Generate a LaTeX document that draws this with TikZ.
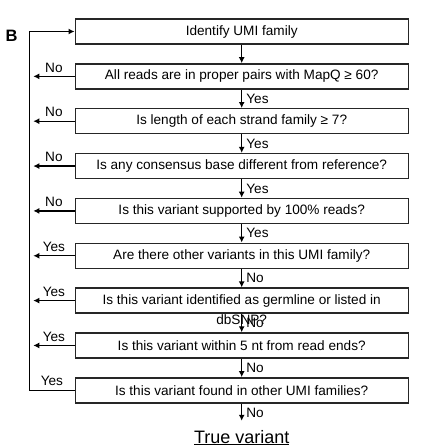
\documentclass[tikz,border=0pt]{standalone}
\usepackage{fontspec}
\setmainfont{Liberation Sans}
\usetikzlibrary{positioning,arrows.meta}

\begin{document}
\begin{tikzpicture}[x=1pt,y=1pt,node distance=18.45pt,
        qbox/.style={draw=black!85,line width=1.4pt,minimum width=333pt,minimum height=25pt,
            inner sep=0pt,font=\fontsize{13.6}{16}\selectfont},
        flow/.style={line width=1.4pt,-{Latex[length=6pt,width=6pt]}},
        ans/.style={font=\fontsize{13.6}{16}\selectfont,inner sep=1pt}]
        \useasboundingbox (0,0) rectangle (427,-447);
        \node[font=\fontsize{16.5}{18}\selectfont\bfseries] (panel) at (11.5,-36) {B};
        \node[qbox] (q1) at (241.7,-31.5) {Identify UMI family};
        \node[qbox,below=of q1] (q2) {All reads are in proper pairs with MapQ ≥ 60?};
        \node[qbox,below=of q2] (q3) {Is length of each strand family ≥ 7?};
        \node[qbox,below=of q3] (q4) {Is any consensus base different from reference?};
        \node[qbox,below=of q4] (q5) {Is this variant supported by 100\% reads?};
        \node[qbox,below=of q5] (q6) {Are there other variants in this UMI family?};
        \node[qbox,below=of q6] (q7) {Is this variant identified as germline or listed in};
        \node[ans,inner sep=0pt,below=1pt of q7.south] (q7b) {dbSNP?};
        \node[qbox,below=of q7] (q8) {Is this variant within 5 nt from read ends?};
        \node[qbox,below=of q8] (q9) {Is this variant found in other UMI families?};
        \node[font=\fontsize{18}{20}\selectfont,inner sep=0pt,below=26.3pt of q9] (tv) {\underline{True variant}};
        \coordinate (rail) at (29.3,0);
        \coordinate (out) at (33.3,0);
        % answers going down
        \draw[flow] (q1) -- (q2);
        \foreach \a/\b/\t in {q2/q3/Yes,q3/q4/Yes,q4/q5/Yes,q5/q6/Yes,q6/q7/No,q7/q8/No,q8/q9/No}
            \draw[flow] (\a) -- (\b) node[ans,midway,right,xshift=3pt]{\t};
        \draw[flow,shorten >=9pt] (q9) -- (tv) node[ans,midway,right,xshift=3pt,yshift=4pt]{No};
        % answers going out
        \foreach \q/\t in {q2/No,q3/No,q4/No,q5/No,q6/Yes,q7/Yes,q8/Yes}
            \draw[flow] (\q.west) -- (\q.west -| out) node[ans,midway,above,yshift=2.5pt]{\t};
        \draw[flow] (q9.west) -- (q9.west -| rail) node[ans,midway,above,yshift=2.5pt]{Yes}
            -- (q1.west -| rail) -- (q1.west);
    \end{tikzpicture}
\end{document}
